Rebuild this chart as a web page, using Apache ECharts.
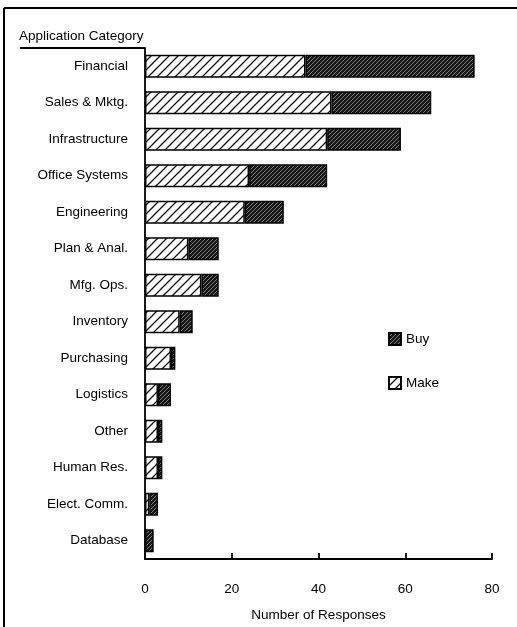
<!DOCTYPE html>
<html>
<head>
<meta charset="utf-8">
<script src="https://cdn.jsdelivr.net/npm/echarts@6/dist/echarts.min.js"></script>
<style>
  html, body { margin: 0; padding: 0; background: #fff; }
  #chart { width: 517px; height: 627px; }
</style>
</head>
<body>
<div id="chart"></div>
<script>
// Application categories, top to bottom
const categories = [
  'Financial', 'Sales & Mktg.', 'Infrastructure', 'Office Systems', 'Engineering',
  'Plan & Anal.', 'Mfg. Ops.', 'Inventory', 'Purchasing', 'Logistics',
  'Other', 'Human Res.', 'Elect. Comm.', 'Database'
];
// Responses: developed in-house
const makeValues = [37, 43, 42, 24, 23, 10, 13, 8, 6, 3, 3, 3, 1, 0];
// Responses: purchased
const buyValues = [39, 23, 17, 18, 9, 7, 4, 3, 1, 3, 1, 1, 2, 2];
// Value axis ticks
const xTicks = [0, 20, 40, 60, 80];

// Diagonal hatch tile for fills
function hatch(size, bg, fg, lw) {
  const c = document.createElement('canvas');
  c.width = size; c.height = size;
  const g = c.getContext('2d');
  g.fillStyle = bg;
  g.fillRect(0, 0, size, size);
  g.strokeStyle = fg;
  g.lineWidth = lw;
  g.beginPath();
  g.moveTo(-1, size + 1); g.lineTo(size + 1, -1);
  g.moveTo(-size / 2 - 1, size / 2 + 1); g.lineTo(size / 2 + 1, -size / 2 - 1);
  g.moveTo(size / 2 - 1, size * 1.5 + 1); g.lineTo(size * 1.5 + 1, size / 2 - 1);
  g.stroke();
  return { image: c, repeat: 'repeat' };
}

const makeFill = hatch(9, '#ffffff', '#111111', 1.3);
const buyFill = hatch(4, '#161616', '#8a8a8a', 0.9);

const chart = echarts.init(document.getElementById('chart'), null, { renderer: 'canvas' });

const font = 'Liberation Sans, Arial, Helvetica, sans-serif';

chart.setOption({
  animation: false,
  backgroundColor: '#ffffff',
  textStyle: { fontFamily: font, color: '#000' },
  grid: { left: 145, right: 25, top: 48, bottom: 68, containLabel: false },
  legend: {
    data: ['Buy', 'Make'],
    orient: 'vertical',
    left: 383,
    top: 327,
    icon: 'rect',
    itemWidth: 12,
    itemHeight: 12,
    itemGap: 30,
    textStyle: { fontFamily: font, fontSize: 13.5, color: '#000' },
    selectedMode: false
  },
  xAxis: {
    type: 'value',
    min: xTicks[0],
    max: xTicks[xTicks.length - 1],
    interval: 20,
    name: 'Number of Responses',
    nameLocation: 'middle',
    nameGap: 49,
    nameTextStyle: { fontFamily: font, fontSize: 13.5, color: '#000' },
    axisLine: { show: true, lineStyle: { color: '#000', width: 1.8 } },
    axisTick: { show: true, inside: true, length: 6, lineStyle: { color: '#000', width: 1.8 } },
    axisLabel: { margin: 23, fontFamily: font, fontSize: 13.5, color: '#000' },
    splitLine: { show: false }
  },
  yAxis: {
    type: 'category',
    data: categories,
    inverse: true,
    axisLine: { show: true, lineStyle: { color: '#000', width: 1.8 } },
    axisTick: { show: false },
    axisLabel: { margin: 17, fontFamily: font, fontSize: 13.5, color: '#000' }
  },
  series: [
    {
      name: 'Make',
      type: 'bar',
      stack: 'resp',
      data: makeValues,
      barWidth: 23,
      itemStyle: { color: makeFill, borderColor: '#000', borderWidth: 1.5 }
    },
    {
      name: 'Buy',
      type: 'bar',
      stack: 'resp',
      data: buyValues,
      barWidth: 23,
      itemStyle: { color: buyFill, borderColor: '#000', borderWidth: 1.5 }
    }
  ],
  graphic: [
    { type: 'line', shape: { x1: 4, y1: 8, x2: 517, y2: 8 }, style: { stroke: '#000', lineWidth: 2 } },
    { type: 'line', shape: { x1: 4, y1: 8, x2: 4, y2: 627 }, style: { stroke: '#000', lineWidth: 2 } },
    { type: 'line', shape: { x1: 20, y1: 48, x2: 145, y2: 48 }, style: { stroke: '#000', lineWidth: 1.8 } },
    {
      type: 'text', left: 19, top: 29,
      style: { text: 'Application Category', font: '13.5px ' + font, fill: '#000' }
    }
  ]
});
</script>
</body>
</html>
